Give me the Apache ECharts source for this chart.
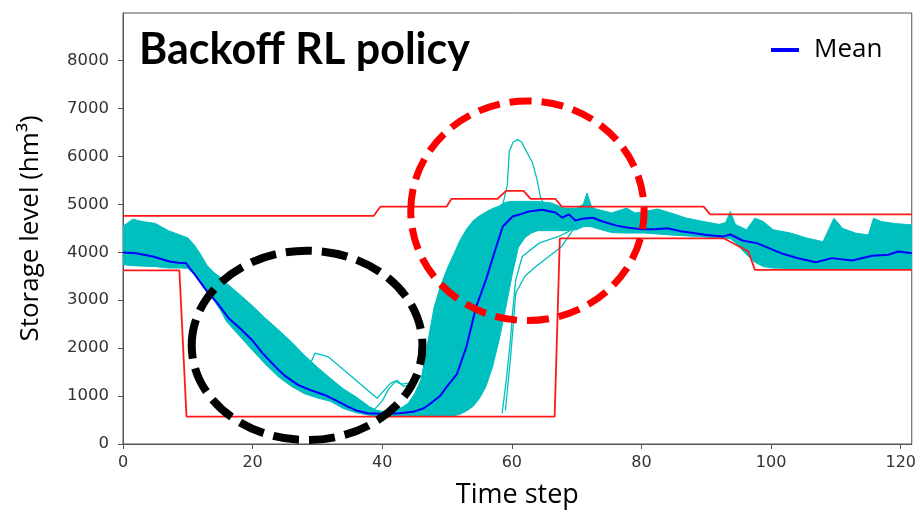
<!DOCTYPE html>
<html>
<head>
<meta charset="utf-8">
<script src="https://cdn.jsdelivr.net/npm/echarts@6/dist/echarts.min.js"></script>
<style>html,body{margin:0;padding:0;background:#fff}#c{width:919px;height:514px}</style>
</head>
<body>
<div id="c"></div>
<script>
// ---- Data ----
const xTicks = [0, 20, 40, 60, 80, 100, 120];
const yTicks = [0, 1000, 2000, 3000, 4000, 5000, 6000, 7000, 8000];

// ensemble envelope (cyan band)
const bandT  = [0,1.5,3,5,7,9,10,11,12,13,14,15,16,18,20,22,24,26,28,30,32,34,36,38,39,40,41,42,43,44,45,46,47,48,49,50,51,52,53,54,55,56,57,58,59,60,61,62,63,64,66,67,68,70,71,71.6,72.3,73,75.4,77.7,79,80.5,82.5,84.5,87,89.6,92,93,93.7,94.5,96.2,97.5,98.8,100.3,103,105.4,108,109.7,111,113,115,115.8,117,119,121.7];
const bandHi = [4540,4690,4640,4600,4450,4350,4300,4150,3950,3720,3580,3480,3350,3120,2880,2620,2380,2130,1850,1600,1370,1150,980,780,710,680,700,720,760,850,1050,1350,2100,2850,3300,3650,3950,4250,4480,4650,4760,4840,4910,4960,5040,5060,5060,5060,5060,5060,5030,4980,4920,4920,5000,5235,4950,4900,4820,4920,4820,4850,4900,4820,4710,4640,4580,4620,4850,4580,4470,4710,4640,4470,4400,4300,4220,4710,4500,4400,4360,4710,4640,4600,4570];
const bandLo = [3740,3720,3710,3700,3670,3670,3660,3540,3350,3150,3000,2800,2550,2250,1950,1660,1400,1200,1050,960,890,740,650,600,590,585,585,585,585,585,585,585,585,585,585,585,585,620,690,780,950,1200,1600,2150,2800,3500,4100,4300,4400,4450,4450,4450,4450,4470,4530,4540,4530,4500,4410,4400,4400,4400,4380,4360,4340,4320,4300,4290,4280,4200,3950,3790,3700,3670,3660,3660,3660,3660,3660,3660,3660,3660,3660,3660,3660];

// individual outlying trajectories
const outSpike = [[57.5,4900],[58.6,5000],[59.3,5400],[59.6,6100],[60.2,6300],[60.9,6350],[61.5,6300],[62.1,6140],[63.2,5860],[63.9,5510],[64.4,5160],[65,4980]];
const outBump1 = [[27,1700],[28.5,1545],[29.6,1894],[31.6,1823],[35.5,1380],[39.2,954],[40.5,1150],[41.3,1270],[42.3,1330],[43.3,1200],[44.5,1250],[46,1400]];
const outBump2 = [[38.5,680],[40,900],[41,1150],[42,1300],[43,1250],[44.5,1280],[46,1420]];
const outSlow1 = [[58.5,640],[59.2,1400],[59.8,2200],[60.1,2729],[60.6,3424],[61.6,3911],[64.2,4190],[67.2,4329],[69,4450]];
const outSlow2 = [[59,700],[59.8,1800],[60.6,3147],[62,3500],[63.7,3702],[67.7,4120],[69.8,4537]];

// mean trajectory
const meanT = [0,2,4.6,7.2,8.5,9.7,11,12.8,14.5,16.3,18,19.9,21.5,23.5,25,27,29,31.1,33,34.7,36,37.7,40,42.7,45,46.4,47.5,48.9,50,51.5,53,54.5,56,57.6,58.6,60.1,61.5,62.6,64.7,66.7,67.8,68.8,69.8,70.8,72.5,74,76,78,80,82,84,86,88,90,92.7,93.7,95.7,97.8,101.8,104,106.9,109.4,112.5,115.6,118.1,119.6,121.7];
const meanV = [3995,3980,3911,3807,3780,3773,3550,3215,2950,2624,2420,2171,1900,1614,1420,1232,1120,1023,900,779,700,641,630,641,680,745,850,1000,1200,1450,2032,2867,3424,4120,4537,4746,4800,4850,4886,4830,4720,4790,4660,4700,4720,4640,4560,4510,4480,4480,4500,4440,4400,4360,4330,4370,4240,4190,3967,3880,3793,3877,3828,3925,3946,4015,3981];

// rule curve bounds (red)
const upperBound = [[0,4760],[38.7,4760],[39.7,4950],[49.9,4950],[50.7,5115],[57.8,5115],[59.1,5280],[61.8,5280],[62.9,5115],[66.7,5115],[67.7,4950],[89.6,4950],[90.6,4790],[121.7,4790]];
const lowerBound = [[0,3620],[8.7,3620],[9.8,570],[66.6,570],[67.4,4290],[92.7,4290],[96.5,4015],[97.5,3633],[121.7,3633]];

// annotation ellipses in data units: centre t, centre v, radius t, radius v
const redEllipse   = [62.4, 4865, 18.0, 2290];
const blackEllipse = [28.4, 2057, 17.8, 1975];

const CYAN = '#00bfbf';
const pair = (ts, vs) => ts.map((t, i) => [t, vs[i]]);
const thin = (d) => ({type:'line', data:d, symbol:'none', silent:true, z:3,
  lineStyle:{color:CYAN, width:1.3}});

const chart = echarts.init(document.getElementById('c'));
chart.setOption({
  animation: false,
  backgroundColor: '#fff',
  title: {
    text: 'Backoff RL policy', left: 134, top: 24,
    textStyle: {fontFamily: 'Lato', fontWeight: 'bold', fontSize: 43, color: '#000'}
  },
  legend: {
    data: ['Mean'], left: 766, top: 32, icon: 'rect', itemWidth: 28, itemHeight: 4, itemGap: 10,
    textStyle: {fontFamily: 'Open Sans', fontSize: 26, color: '#000', padding: [0,0,0,10]}
  },
  grid: {left: 123, right: 0, top: 13, bottom: 70, show: true, borderColor: '#555', borderWidth: 1},
  xAxis: {
    type: 'value', min: 0, max: 121.7, interval: 20,
    name: 'Time step', nameLocation: 'middle', nameGap: 38,
    nameTextStyle: {fontFamily: 'Open Sans', fontSize: 27, color: '#000'},
    axisLine: {lineStyle: {color: '#555'}},
    axisTick: {show: true, length: 5, lineStyle: {color: '#555'}, customValues: xTicks},
    axisLabel: {fontFamily: 'DejaVu Sans', fontSize: 16, color: '#333', margin: 11, customValues: xTicks,
      formatter: v => String(v)},
    splitLine: {show: false}
  },
  yAxis: {
    type: 'value', min: 0, max: 8990, interval: 1000,
    name: 'Storage level (hm³)', nameLocation: 'middle', nameGap: 79,
    nameTextStyle: {fontFamily: 'Open Sans', fontSize: 26, color: '#000'},
    axisLine: {show: true, lineStyle: {color: '#555'}},
    axisTick: {show: true, length: 5, lineStyle: {color: '#555'}, customValues: yTicks},
    axisLabel: {fontFamily: 'DejaVu Sans', fontSize: 16.5, color: '#333', margin: 14, customValues: yTicks,
      formatter: v => String(v)},
    splitLine: {show: false}
  },
  series: [
    {type:'custom', name:'band', silent:true, z:2, clip:true,
     data: [[bandT[0], bandLo[0]]],
     renderItem: function (params, api) {
       const pts = [];
       for (let i = 0; i < bandT.length; i++) pts.push(api.coord([bandT[i], bandHi[i]]));
       for (let i = bandT.length - 1; i >= 0; i--) pts.push(api.coord([bandT[i], bandLo[i]]));
       return {type:'polygon', shape:{points: pts}, style:{fill: CYAN, stroke: CYAN, lineWidth: 1}};
     }},
    thin(outSpike), thin(outBump1), thin(outBump2), thin(outSlow1), thin(outSlow2),
    {type:'line', name:'upper', data: upperBound, symbol:'none', silent:true, z:4,
     lineStyle:{color:'#ff1a1a', width:1.8}},
    {type:'line', name:'lower', data: lowerBound, symbol:'none', silent:true, z:4,
     lineStyle:{color:'#ff1a1a', width:1.8}},
    {type:'line', name:'Mean', data: pair(meanT, meanV), symbol:'none', z:5,
     lineStyle:{color:'#0000ff', width:2}, itemStyle:{color:'#0000ff'}}
  ]
});

function ellipseGraphic(e, color, width, dash) {
  const c = chart.convertToPixel({gridIndex:0}, [e[0], e[1]]);
  const r = chart.convertToPixel({gridIndex:0}, [e[0] + e[2], e[1] + e[3]]);
  return {type:'ellipse', z: 100, silent:true,
    shape:{cx:c[0], cy:c[1], rx:Math.abs(r[0]-c[0]), ry:Math.abs(c[1]-r[1])},
    style:{fill:null, stroke:color, lineWidth:width, lineDash:dash}};
}
chart.setOption({graphic: [
  ellipseGraphic(blackEllipse, '#000', 8, [26, 10]),
  ellipseGraphic(redEllipse, '#ff0000', 7, [22, 10])
]});
</script>
</body>
</html>
